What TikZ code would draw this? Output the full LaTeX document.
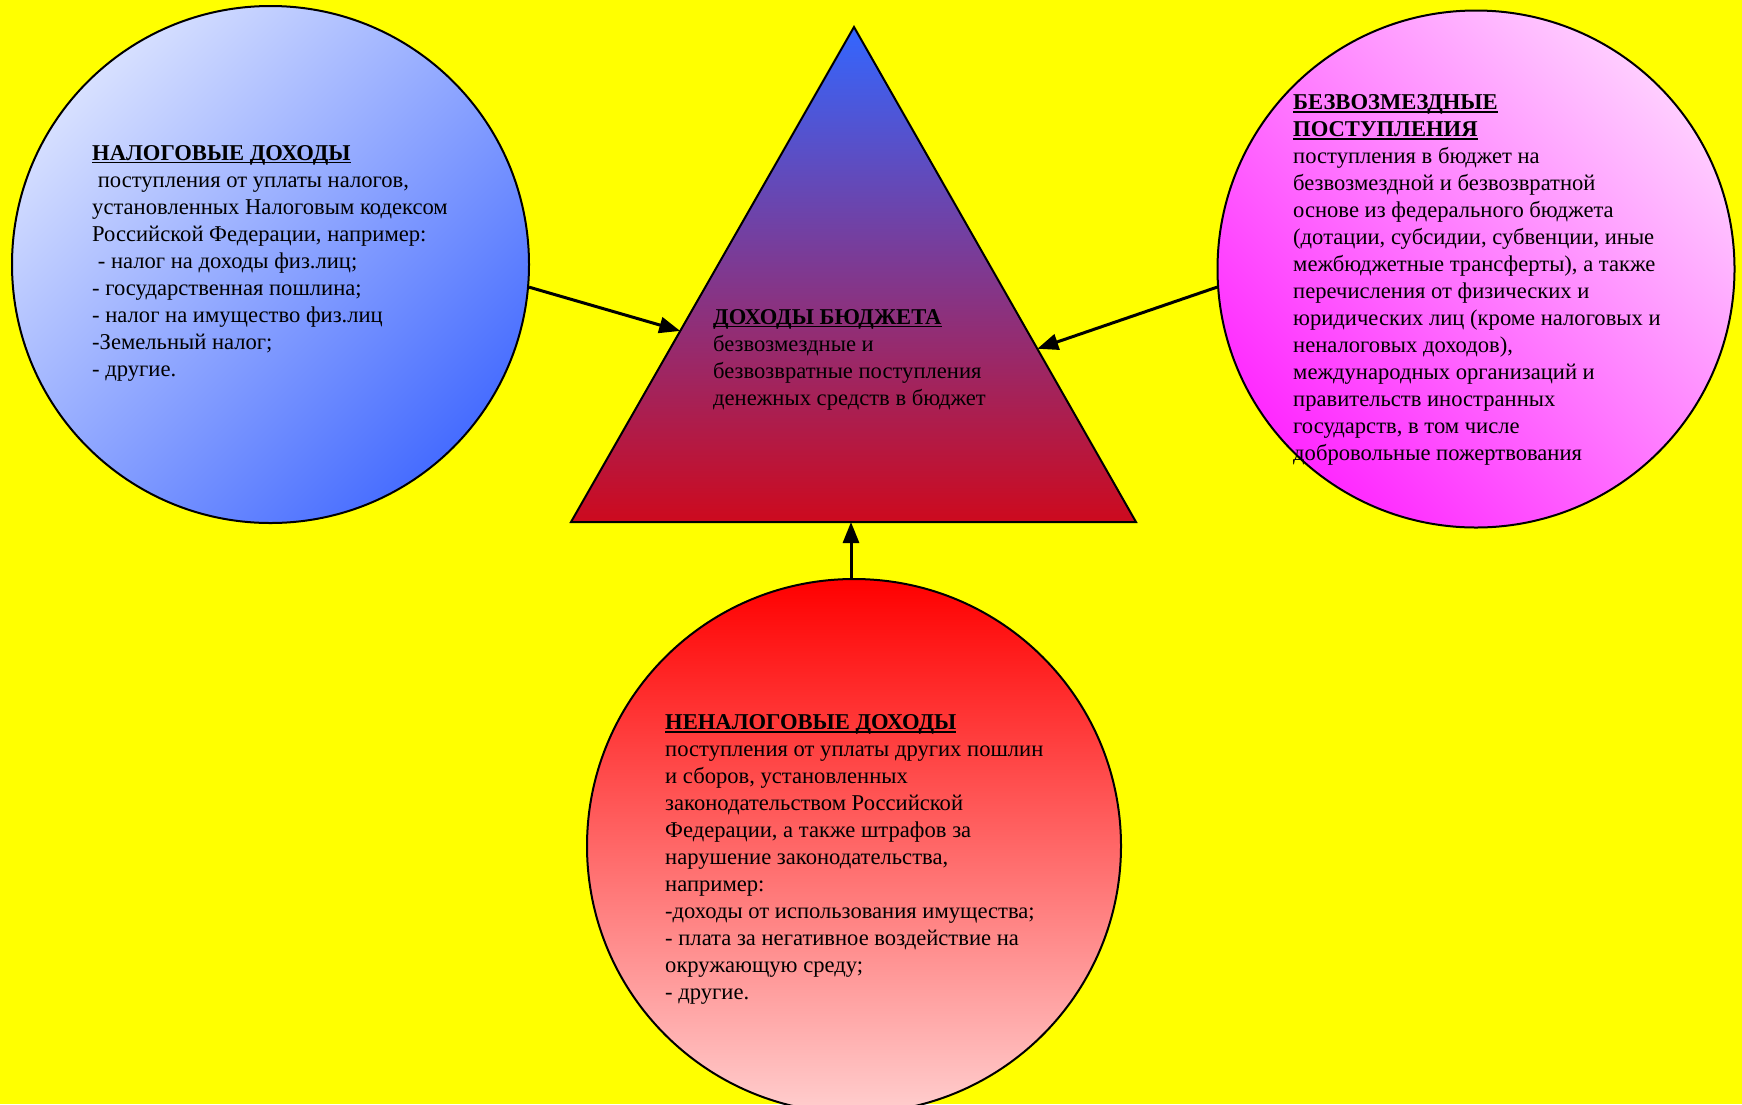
\documentclass[tikz,border=0pt]{standalone}
\usepackage{fontspec}
\setmainfont{Liberation Serif}
\usetikzlibrary{arrows.meta,calc}
\definecolor{bgyellow}{RGB}{255,255,0}
\definecolor{blueA}{RGB}{215,224,255}
\definecolor{blueB}{RGB}{70,108,255}
\definecolor{pinkA}{RGB}{255,205,255}
\definecolor{pinkB}{RGB}{255,40,255}
\definecolor{redA}{RGB}{255,0,0}
\definecolor{redM}{RGB}{255,142,142}
\definecolor{redB}{RGB}{255,206,206}
\definecolor{triTop}{RGB}{51,102,255}
\definecolor{triMid}{RGB}{150,75,205}
\definecolor{triBot}{RGB}{205,10,30}
\newcommand\hdul[1]{\leavevmode\setbox0\hbox{\bfseries #1}\rlap{\rule[-3.2pt]{\wd0}{1.7pt}}\box0}
\tikzset{
  txt/.style={anchor=base west, inner sep=0pt, font=\fontsize{22.6}{27}\selectfont},
  conn/.style={line width=3pt, -{Triangle[length=21pt,width=16pt]}},
  bubble/.style={circle, draw=black, line width=2pt, inner sep=0pt},
}
\begin{document}
\begin{tikzpicture}[x=1pt,y=-1pt]
\useasboundingbox (0,0) rectangle (1742,1104);
\fill[bgyellow] (0,0) rectangle (1742,1104);
% triangle
\coordinate (A) at (854,27);
\coordinate (BL) at (571,522);
\coordinate (BR) at (1136,522);
\draw[line width=2pt, line join=miter, top color=triTop, middle color=triMid, bottom color=triBot] (A) -- (BR) -- (BL) -- cycle;
\coordinate (tipL) at ($(BL)!0.386!(A)$);
\coordinate (tipR) at ($(BR)!0.35!(A)$);
% circles
\node[bubble, minimum size=517pt, top color=blueA, bottom color=blueB, shading angle=45] (L) at (270.5,264.5) {};
\node[bubble, minimum size=517pt, top color=pinkA, bottom color=pinkB, shading angle=-45] (R) at (1476,269) {};
\node[bubble, minimum size=534pt, top color=redA, middle color=redM, bottom color=redB] (B) at (854,846) {};
% connectors
\draw[conn] (L.-5.2) -- (tipL);
\draw[conn] (R.184.2) -- (tipR);
\draw[conn] ([xshift=-3pt]B.north) -- ([xshift=-3pt]B.north |- BL);
% texts
\node[txt] (tL) at (92,160) {\parbox[t]{420pt}{\raggedright
\hdul{НАЛОГОВЫЕ ДОХОДЫ}\\
\hspace*{0.25em}поступления от уплаты налогов,\\
установленных Налоговым кодексом\\
Российской Федерации, например:\\
\hspace*{0.25em}- налог на доходы физ.лиц;\\
- государственная пошлина;\\
- налог на имущество физ.лиц\\
-Земельный налог;\\
- другие.}};
\node[txt] (tR) at (1293,109.5) {\parbox[t]{440pt}{\raggedright
\hdul{БЕЗВОЗМЕЗДНЫЕ}\\
\hdul{ПОСТУПЛЕНИЯ}\\
поступления в бюджет на\\
безвозмездной и безвозвратной\\
основе из федерального бюджета\\
(дотации, субсидии, субвенции, иные\\
межбюджетные трансферты), а также\\
перечисления от физических и\\
юридических лиц (кроме налоговых и\\
неналоговых доходов),\\
международных организаций и\\
правительств иностранных\\
государств, в том числе\\
добровольные пожертвования}};
\node[txt] (tT) at (713,324) {\parbox[t]{400pt}{\raggedright
\hdul{ДОХОДЫ БЮДЖЕТА}\\
безвозмездные и\\
безвозвратные поступления\\
денежных средств в бюджет}};
\node[txt] (tB) at (665,729.6) {\parbox[t]{460pt}{\raggedright
\hdul{НЕНАЛОГОВЫЕ ДОХОДЫ}\\
поступления от уплаты других пошлин\\
и сборов, установленных\\
законодательством Российской\\
Федерации, а также штрафов за\\
нарушение законодательства,\\
например:\\
-доходы от использования имущества;\\
- плата за негативное воздействие на\\
окружающую среду;\\
- другие.}};
\end{tikzpicture}
\end{document}
